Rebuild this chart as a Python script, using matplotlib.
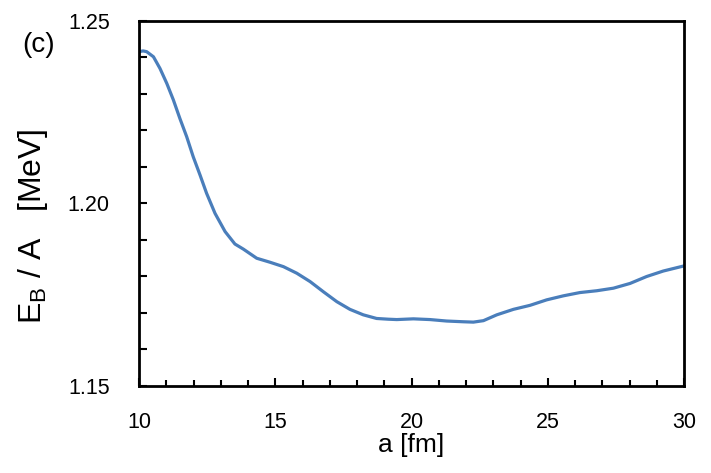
import matplotlib
matplotlib.use("Agg")
import matplotlib.pyplot as plt
from matplotlib.ticker import MultipleLocator, FormatStrFormatter

plt.rcParams["font.family"] = ["Liberation Sans", "DejaVu Sans"]
plt.rcParams["mathtext.fontset"] = "custom"
plt.rcParams["mathtext.rm"] = "Liberation Sans"

# datos
a_fm = [10.0, 10.15, 10.28, 10.53, 10.77, 11.02, 11.26, 11.50, 11.75, 11.99,
        12.24, 12.48, 12.79, 13.16, 13.52, 13.83, 14.32, 14.81, 15.30, 15.79,
        16.28, 16.77, 17.26, 17.74, 18.23, 18.72, 19.15, 19.46, 20.07, 20.68,
        21.29, 21.90, 22.27, 22.64, 23.13, 23.74, 24.35, 24.96, 25.57, 26.18,
        26.80, 27.41, 28.02, 28.63, 29.24, 30.0]
eb_a = [1.2416, 1.2418, 1.2416, 1.2402, 1.2370, 1.2329, 1.2284, 1.2233, 1.2183, 1.2128,
        1.2078, 1.2028, 1.1973, 1.1923, 1.1889, 1.1875, 1.1850, 1.1839, 1.1827, 1.1809,
        1.1786, 1.1758, 1.1731, 1.1710, 1.1695, 1.1685, 1.1683, 1.1682, 1.1684, 1.1682,
        1.1678, 1.1676, 1.1675, 1.1679, 1.1695, 1.1710, 1.1721, 1.1736, 1.1747, 1.1756,
        1.1761, 1.1768, 1.1781, 1.1800, 1.1815, 1.1829]

fig = plt.figure(figsize=(7.11, 4.73), dpi=100)
ax = fig.add_axes([139 / 711, 1 - 386 / 473, 545 / 711, 365 / 473])

ax.plot(a_fm, eb_a, color="#4A7EBB", linewidth=2.3,
        solid_joinstyle="round", solid_capstyle="round")

ax.set_xlim(10, 30)
ax.set_ylim(1.15, 1.25)
ax.xaxis.set_major_locator(MultipleLocator(5))
ax.xaxis.set_minor_locator(MultipleLocator(1))
ax.yaxis.set_major_locator(MultipleLocator(0.05))
ax.yaxis.set_minor_locator(MultipleLocator(0.01))
ax.yaxis.set_major_formatter(FormatStrFormatter("%.2f"))

for s in ax.spines.values():
    s.set_linewidth(2.0)
ax.tick_params(which="both", direction="in", width=1.5, labelsize=15.5)
ax.tick_params(axis="x", which="major", length=6, pad=19)
ax.tick_params(axis="x", which="minor", length=4)
ax.tick_params(axis="y", which="both", length=5.5, pad=21)

ax.set_xlabel("a [fm]", fontsize=19)
ax.xaxis.set_label_coords(0.5, -0.128)
ax.set_ylabel("E$_{\\mathrm{B}}$ / A   [MeV]", fontsize=23)
ax.yaxis.set_label_coords(-0.163, 0.438)

fig.text(22 / 711, 1 - 45 / 473, "(c)", fontsize=20, ha="left", va="center")

plt.savefig("out.png", dpi=100)
plt.close()
